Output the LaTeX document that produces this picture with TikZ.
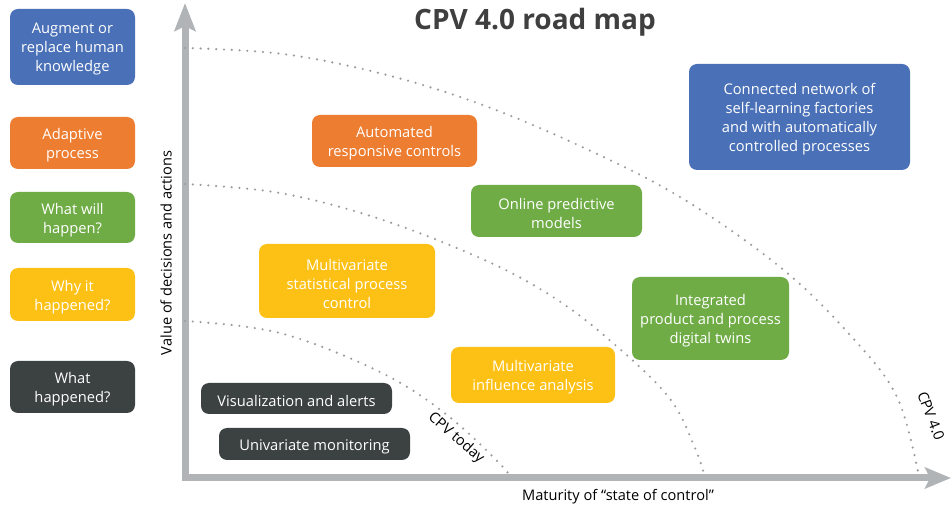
\documentclass[tikz,border=0pt]{standalone}
\usepackage{fontspec}
\setmainfont{Open Sans}
\usetikzlibrary{arrows.meta}
\definecolor{cblue}{HTML}{4A70B7}
\definecolor{corange}{HTML}{ED7D31}
\definecolor{cgreen}{HTML}{6FAC46}
\definecolor{cyellow}{HTML}{FDC116}
\definecolor{cdark}{HTML}{3C4142}
\definecolor{caxis}{HTML}{B1B4B7}
\definecolor{cdots}{HTML}{9A9C9E}
\definecolor{ctitle}{HTML}{3F3F3F}
\begin{document}
\begin{tikzpicture}[x=1pt,y=-1pt,
  box/.style={rounded corners=8pt, inner sep=0pt},
  boxtext/.style={inner sep=0pt, text=white, align=center, yshift=-2.5pt,
    font=\fontsize{14.7}{19}\selectfont},
  axisline/.style={draw=caxis, line width=7pt, line join=miter},
  dotline/.style={draw=cdots, line width=2.4pt, line cap=round, dash pattern=on 0pt off 7.8pt},
  lab/.style={inner sep=0pt, text=black, font=\fontsize{14.6}{17}\selectfont}]
\useasboundingbox (0,0) rectangle (951,510);
\fill[white] (0,0) rectangle (951,510);

% axes
\coordinate (ytip) at (185,3);
\coordinate (O) at (185,478);
\coordinate (xtip) at (951,478);
\draw[axisline, {Stealth[length=28pt, width=21pt, inset=5pt, color=caxis]}-{Stealth[length=26pt, width=21pt, inset=5pt, color=caxis]}] (ytip) -- (O) -- (xtip);

% dotted arcs
\draw[dotline] plot[smooth, tension=0.6] coordinates {(185,48) (283,54) (383,74) (480,104) (580,146) (680,197) (780,267) (850,335) (897,397) (919,477)};
\draw[dotline] plot[smooth, tension=0.6] coordinates {(185,184) (280,193) (380,219) (480,258) (545,292) (600,332) (667,395) (695,448) (705,478)};
\draw[dotline] plot[smooth, tension=0.6] coordinates {(185,321) (280,333) (380,372) (447,415) (503,467) (508,478)};

% title and axis labels
\node[inner sep=0pt, text=ctitle, font=\fontsize{28}{32}\bfseries\selectfont] (title) at (535,22.5) {CPV 4.0 road map};
\node[lab, rotate=90] (ylab) at (166,253) {Value of decisions and actions};
\node[lab] (xlab) at (618,497) {Maturity of “state of control”};
\node[lab, rotate=-41] (today) at (456,438) {CPV today};
\node[lab, rotate=-69] (cpv4) at (931,416) {CPV 4.0};

% legend boxes
\node[box, fill=cblue, minimum width=125pt, minimum height=76pt, label={[boxtext]center:{Augment or\\replace human\\knowledge}}] (aug) at (72.5,47) {};
\node[box, fill=corange, minimum width=125pt, minimum height=52pt, label={[boxtext]center:{Adaptive\\process}}] (adapt) at (72.5,143) {};
\node[box, fill=cgreen, minimum width=125pt, minimum height=51pt, label={[boxtext]center:{What will\\happen?}}] (will) at (72.5,217.5) {};
\node[box, fill=cyellow, minimum width=125pt, minimum height=53pt, label={[boxtext]center:{Why it\\happened?}}] (why) at (72.5,294.5) {};
\node[box, fill=cdark, minimum width=125pt, minimum height=52pt, label={[boxtext]center:{What\\happened?}}] (what) at (72.5,387) {};

% chart boxes
\node[box, fill=corange, minimum width=165pt, minimum height=52pt, label={[boxtext]center:{Automated\\responsive controls}}] (auto) at (394.5,141) {};
\node[box, fill=cblue, minimum width=221pt, minimum height=106pt, label={[boxtext]center:{Connected network of\\self-learning factories\\and with automatically\\controlled processes}}] (conn) at (799.5,117) {};
\node[box, fill=cgreen, minimum width=171pt, minimum height=52pt, label={[boxtext]center:{Online predictive\\models}}] (online) at (556.5,211) {};
\node[box, fill=cyellow, minimum width=176pt, minimum height=74pt, label={[boxtext]center:{Multivariate\\statistical process\\control}}] (mspc) at (347,281) {};
\node[box, fill=cgreen, minimum width=157pt, minimum height=83pt, label={[boxtext]center:{Integrated\\product and process\\digital twins}}] (twin) at (710.5,318.5) {};
\node[box, fill=cyellow, minimum width=164pt, minimum height=56pt, label={[boxtext]center:{Multivariate\\influence analysis}}] (infl) at (533,375) {};
\node[box, fill=cdark, minimum width=191pt, minimum height=31pt, label={[boxtext]center:{Visualization and alerts}}] (vis) at (296.5,398.5) {};
\node[box, fill=cdark, minimum width=191pt, minimum height=32pt, label={[boxtext]center:{Univariate monitoring}}] (uni) at (314.5,444) {};
\end{tikzpicture}
\end{document}
